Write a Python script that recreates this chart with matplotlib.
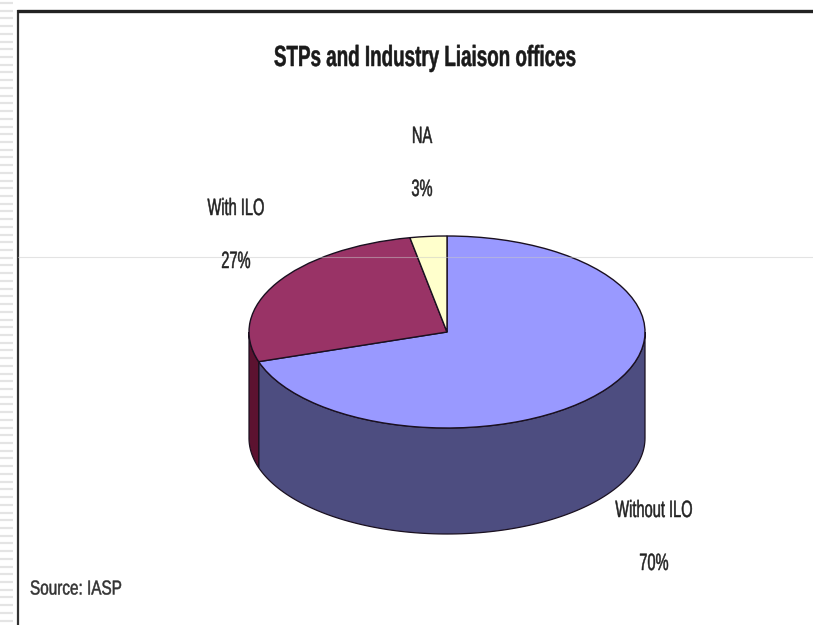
import numpy as np
import matplotlib
matplotlib.use('Agg')
import matplotlib.pyplot as plt
from matplotlib.patheffects import AbstractPathEffect
from matplotlib.transforms import Affine2D

title = 'STPs and Industry Liaison offices'
source = 'Source: IASP'
labels = ['Without ILO', 'With ILO', 'NA']
values = [70, 27, 3]
top_colors = ['#9999ff', '#993366', '#ffffcc']
side_colors = ['#4d4d80', '#5c1230', '#99997a']

W, H = 813, 625
cx, cy, rx, ry, depth = 447, 332, 198, 96, 106


# the original text is very condensed, no narrow font is installed
class Squeeze(AbstractPathEffect):
    def __init__(self, x0, sx, stroke):
        super().__init__()
        self.x0 = x0
        self.sx = sx
        self.stroke = stroke

    def draw_path(self, renderer, gc, tpath, affine, rgbFace=None):
        squeezed = affine + Affine2D().translate(-self.x0, 0).scale(self.sx, 1).translate(self.x0, 0)
        gc.set_linewidth(self.stroke)
        gc.set_foreground(rgbFace)
        renderer.draw_path(gc, tpath, squeezed, rgbFace)


def put_text(x, y, s, size, sx, color='#222222', ha='center', weight='normal', stroke=0.35):
    ov.text(x, y, s, fontsize=size, family='Liberation Sans', color=color, ha=ha, va='center',
            fontweight=weight, path_effects=[Squeeze(x, sx, stroke)])


fig = plt.figure(figsize=(W / 100, H / 100), dpi=100)
ax = fig.add_axes([0, 0, 1, 1])
ax.pie(values, colors=top_colors, startangle=90, counterclock=False, radius=1,
       wedgeprops={'edgecolor': '#1a1020', 'linewidth': 1.0, 'zorder': 3})
ax.set_aspect('auto')
ax.set_xlim((0 - cx) / rx, (W - cx) / rx)
ax.set_ylim((cy - H) / ry, cy / ry)
ax.set_axis_off()

# side wall of the pie, only the part facing the viewer
d = depth / ry
edges = 90 - np.cumsum([0] + values) * 3.6
for i in range(len(values)):
    a1, a0 = edges[i] % 360, edges[i + 1] % 360
    if a1 <= a0:
        a1 += 360
    lo = max(a0, 180)
    hi = min(a1, 360)
    if lo >= hi:
        continue
    t = np.radians(np.linspace(lo, hi, 120))
    x = np.cos(t)
    y = np.sin(t)
    ax.fill(np.r_[x, x[::-1]], np.r_[y, y[::-1] - d], facecolor=side_colors[i],
            edgecolor='#1a1020', linewidth=0.9, zorder=2)

# page decoration and text in pixel coordinates
ov = fig.add_axes([0, 0, 1, 1], facecolor='none')
ov.set_xlim(0, W)
ov.set_ylim(H, 0)
ov.set_axis_off()
for y in np.arange(3, H, 7.72):
    ov.plot([0, 13], [y, y], color='#e4e4e4', lw=1.6, solid_capstyle='butt')
ov.plot([18, 18], [H, 10], color='#333333', lw=1.6, solid_capstyle='butt')
ov.plot([17, W], [10.5, 10.5], color='#222222', lw=2.4, solid_capstyle='butt')
ov.plot([18, W], [256.5, 256.5], color='#c8c8c8', lw=0.8, alpha=0.5)

put_text(425, 58, title, 21, 0.645, color='#1a1a1a', weight='bold')
label_pos = [(654, 511, 564), (236, 209, 262), (422, 137, 190)]
for name, v, (x, y1, y2) in zip(labels, values, label_pos):
    put_text(x, y1, name, 17, 0.62)
    put_text(x, y2, '%d%%' % v, 17, 0.62)
put_text(30, 589, source, 14.5, 0.76, color='#333333', ha='left')

fig.savefig('out.png', dpi=100)
